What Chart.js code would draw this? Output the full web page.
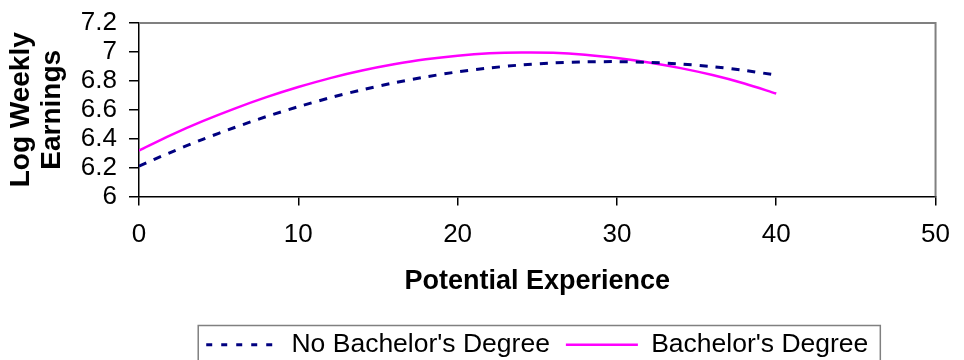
<!DOCTYPE html>
<html>
<head>
<meta charset="utf-8">
<script src="https://cdn.jsdelivr.net/npm/chart.js@4.4.0/dist/chart.umd.min.js"></script>
<style>
  html, body { margin: 0; padding: 0; background: #ffffff; }
  #wrap { width: 964px; height: 360px; position: relative; }
</style>
</head>
<body>
<div id="wrap"><canvas id="c" width="964" height="360"></canvas></div>
<script>
// ---- Data ----
const experience = [0, 2, 4, 6, 8, 10, 12, 14, 16, 18, 20, 22, 24, 26, 28, 30, 32, 34, 36, 38, 40];
const noBachelor = [6.21, 6.306, 6.395, 6.477, 6.553, 6.621, 6.683, 6.738, 6.786, 6.827, 6.862, 6.889, 6.910, 6.924, 6.931, 6.933, 6.928, 6.916, 6.898, 6.872, 6.840];
const bachelor   = [6.318, 6.425, 6.521, 6.608, 6.687, 6.757, 6.819, 6.871, 6.914, 6.949, 6.974, 6.990, 6.996, 6.994, 6.981, 6.958, 6.927, 6.888, 6.840, 6.782, 6.712];
const seriesNames = ["No Bachelor's Degree", "Bachelor's Degree"];
const xTickValues = [0, 10, 20, 30, 40, 50];
const yTickValues = [6, 6.2, 6.4, 6.6, 6.8, 7, 7.2];
const yTickLabels = ['6', '6.2', '6.4', '6.6', '6.8', '7', '7.2'];
const xTitle = 'Potential Experience';
const yTitle = ['Log Weekly', 'Earnings'];

const FONT = "'Liberation Sans', Arial, Helvetica, sans-serif";

const framePlugin = {
  id: 'frame',
  afterDraw(chart) {
    const ctx = chart.ctx, a = chart.chartArea;
    ctx.save();
    ctx.strokeStyle = '#808080';
    ctx.lineWidth = 2;
    ctx.beginPath();
    ctx.moveTo(a.left, a.top);
    ctx.lineTo(a.right, a.top);
    ctx.lineTo(a.right, a.bottom);
    ctx.stroke();
    const hb = chart.legend && chart.legend.legendHitBoxes;
    if (hb && hb.length) {
      const last = hb[hb.length - 1];
      const l = hb[0].left - 8;
      const r = last.left + last.width + 12;
      const t = hb[0].top - 6;
      ctx.lineWidth = 1.5;
      ctx.strokeRect(l, t, r - l, chart.height + 20 - t);
    }
    ctx.restore();
  }
};

new Chart(document.getElementById('c'), {
  type: 'line',
  data: {
    datasets: [
      {
        label: seriesNames[0],
        data: experience.map((x, i) => ({ x: x, y: noBachelor[i] })),
        borderColor: '#000080',
        backgroundColor: '#000080',
        borderWidth: 3,
        borderDash: [8, 8],
        pointRadius: 0,
        tension: 0.3,
        fill: false
      },
      {
        label: seriesNames[1],
        data: experience.map((x, i) => ({ x: x, y: bachelor[i] })),
        borderColor: '#ff00ff',
        backgroundColor: '#ff00ff',
        borderWidth: 2.5,
        pointRadius: 0,
        tension: 0.3,
        fill: false
      }
    ]
  },
  options: {
    responsive: false,
    animation: false,
    devicePixelRatio: 1,
    layout: { padding: { top: 23, right: 17, bottom: -8, left: 0 } },
    plugins: {
      tooltip: { enabled: false },
      legend: {
        display: true,
        position: 'bottom',
        fullSize: false,
        labels: {
          usePointStyle: true,
          pointStyle: 'line',
          pointStyleWidth: 72,
          padding: 16,
          color: '#000',
          font: { family: FONT, size: 26.5 },
          generateLabels(chart) {
            const items = Chart.defaults.plugins.legend.labels.generateLabels(chart);
            items.forEach(it => {
              const ds = chart.data.datasets[it.datasetIndex];
              it.lineDash = ds.borderDash ? [6, 9] : [];
              it.lineWidth = ds.borderWidth;
              it.strokeStyle = ds.borderColor;
              it.fillStyle = ds.borderColor;
              it.pointStyle = 'line';
              it.lineCap = 'butt';
            });
            return items;
          }
        }
      }
    },
    scales: {
      x: {
        type: 'linear',
        min: 0,
        max: 50,
        afterBuildTicks(scale) { scale.ticks = xTickValues.map(v => ({ value: v })); },
        afterFit(scale) { scale.height = 119; },
        ticks: {
          color: '#000',
          padding: 14,
          maxRotation: 0,
          autoSkip: false,
          font: { family: FONT, size: 26 },
          callback: (v) => String(v)
        },
        grid: { drawOnChartArea: false, drawTicks: true, tickLength: 9, color: '#000', lineWidth: 1.5 },
        border: { display: true, color: '#000', width: 1.5 },
        title: {
          display: true,
          text: xTitle,
          color: '#000',
          font: { family: FONT, size: 27, weight: 'bold' },
          padding: { top: 0, bottom: 18 }
        }
      },
      y: {
        type: 'linear',
        min: 6,
        max: 7.2,
        afterBuildTicks(scale) { scale.ticks = yTickValues.map(v => ({ value: v })); },
        afterFit(scale) { scale.width = 139; scale.paddingTop = 0; scale.paddingBottom = 0; },
        ticks: {
          color: '#000',
          padding: 12,
          autoSkip: false,
          font: { family: FONT, size: 26 },
          callback: (v) => { const i = yTickValues.findIndex(t => Math.abs(t - v) < 1e-6); return i >= 0 ? yTickLabels[i] : ''; }
        },
        grid: { drawOnChartArea: false, drawTicks: true, tickLength: 10, color: '#000', lineWidth: 1.5 },
        border: { display: true, color: '#000', width: 1.5 },
        title: {
          display: true,
          text: yTitle,
          color: '#000',
          font: { family: FONT, size: 28, weight: 'bold', lineHeight: 1.1 },
          padding: { top: 6, bottom: 0 }
        }
      }
    }
  },
  plugins: [framePlugin]
});
</script>
</body>
</html>
